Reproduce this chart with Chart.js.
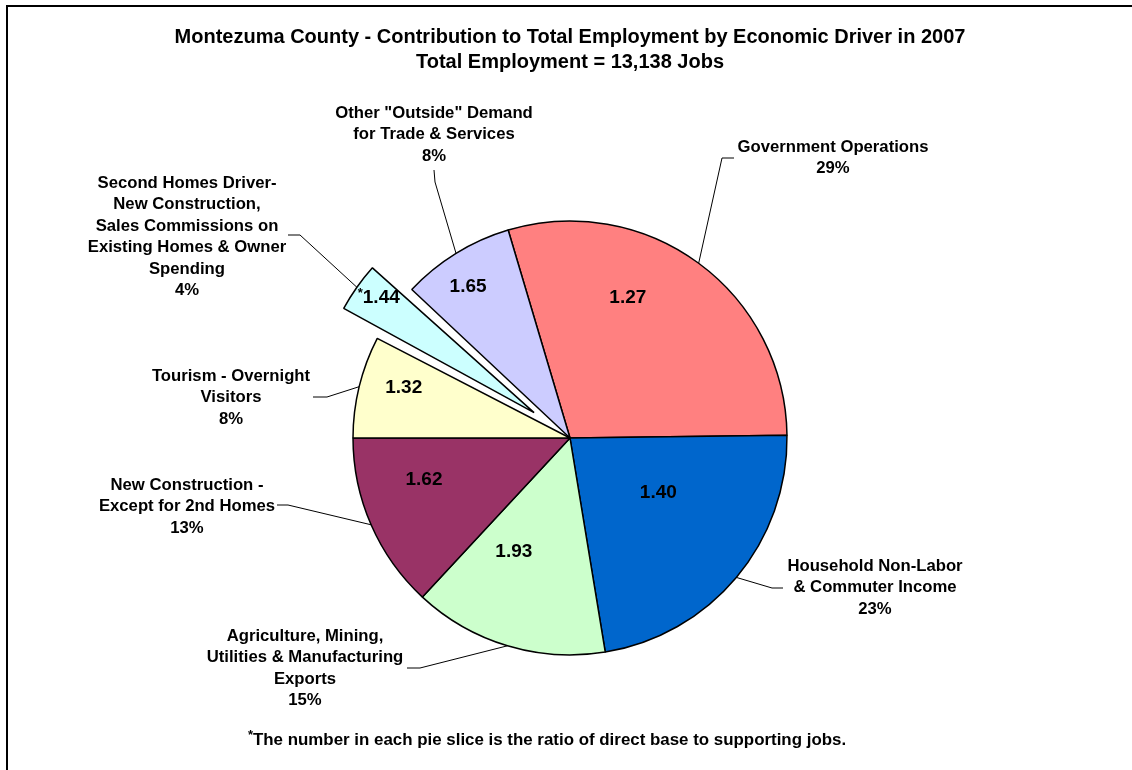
<!DOCTYPE html>
<html>
<head>
<meta charset="utf-8">
<script src="https://cdn.jsdelivr.net/npm/chart.js@4.4.0/dist/chart.umd.min.js"></script>
<style>
html, body { margin: 0; padding: 0; background: #fff; }
#wrap { width: 1132px; height: 770px; }
</style>
</head>
<body>
<div id="wrap"><canvas id="mainChart" width="1132" height="770"></canvas></div>
<script>
const ctx = document.getElementById('mainChart');

// data
const categories = [
    'Government Operations',
    'Household Non-Labor & Commuter Income',
    'Agriculture, Mining, Utilities & Manufacturing Exports',
    'New Construction - Except for 2nd Homes',
    'Tourism - Overnight Visitors',
    'Second Homes Driver- New Construction, Sales Commissions on Existing Homes & Owner Spending',
    'Other "Outside" Demand for Trade & Services'
];
const jobs = [3863, 2969, 1905, 1721, 998, 578, 1104];
const percentLabels = ['29%', '23%', '15%', '13%', '8%', '4%', '8%'];
const ratios = ['1.27', '1.40', '1.93', '1.62', '1.32', '1.44', '1.65'];
const starred = [false, false, false, false, false, true, false];
const labelLines = [
    ['Government Operations'],
    ['Household Non-Labor', '& Commuter Income'],
    ['Agriculture, Mining,', 'Utilities & Manufacturing', 'Exports'],
    ['New Construction -', 'Except for 2nd Homes'],
    ['Tourism - Overnight', 'Visitors'],
    ['Second Homes Driver-', 'New Construction,', 'Sales Commissions on', 'Existing Homes & Owner', 'Spending'],
    ['Other "Outside" Demand', 'for Trade & Services']
];
const titleLines = [
    'Montezuma County - Contribution to Total Employment by Economic Driver in 2007',
    'Total Employment = 13,138 Jobs'
];
const footnote = 'The number in each pie slice is the ratio of direct base to supporting jobs.';

// styling / layout
const colors = ['#FF8080', '#0066CC', '#CCFFCC', '#993366', '#FFFFCC', '#CCFFFF', '#CCCCFF'];
const explode = [0, 0, 0, 0, 0, 44, 0];   // pixels the slice is pulled out
const FONT = '"Liberation Sans", Arial, sans-serif';

// where the numbers sit inside slices: fraction of radius, angle shift from mid (deg)
const ratioPlace = [
    {r: 0.70, da: -14}, {r: 0.48, da: -8}, {r: 0.585, da: 9.5}, {r: 0.70, da: 7.6},
    {r: 0.80, da: 3}, {r: 0.89, da: 1.2}, {r: 0.84, da: -2.3}
];
// outside labels: text centre x, first line y, leader elbow and end
const labelPlace = [
    {x: 833, y: 147, elbow: [722, 158], end: [734, 158]},
    {x: 875, y: 566, elbow: [772, 588], end: [783, 588]},
    {x: 305, y: 636, elbow: [420, 668], end: [407, 668]},
    {x: 187, y: 485, elbow: [288, 505], end: [277, 505]},
    {x: 231, y: 376, elbow: [327, 397], end: [313, 397]},
    {x: 187, y: 183, elbow: [300, 235], end: [288, 235]},
    {x: 434, y: 113, elbow: [435, 182], end: [434, 170]}
];
const lineGap = 21.5;

const framePlugin = {
    id: 'frame',
    beforeDraw(chart) {
        const c = chart.ctx;
        c.save();
        c.fillStyle = '#fff';
        c.fillRect(0, 0, chart.width, chart.height);
        c.strokeStyle = '#000';
        c.lineWidth = 2;
        c.beginPath();
        c.moveTo(7, chart.height);
        c.lineTo(7, 6);
        c.lineTo(chart.width, 6);
        c.stroke();
        c.restore();
    }
};

// chart.js moves an arc by offset/4 and also grows its radius; keep the radius as is
const explodeFix = {
    id: 'explodeFix',
    afterDatasetUpdate(chart, args) {
        args.meta.data.forEach((arc, i) => {
            if (!explode[i]) return;
            const fix = 1 - Math.sin(Math.min(Math.PI, arc.circumference));
            arc.outerRadius -= explode[i] * fix;
        });
    }
};

const labelPlugin = {
    id: 'sliceLabels',
    afterDatasetsDraw(chart) {
        const c = chart.ctx;
        const meta = chart.getDatasetMeta(0);
        const R = meta.controller.outerRadius;
        c.save();
        c.fillStyle = '#000';
        c.textBaseline = 'middle';
        meta.data.forEach((arc, i) => {
            const p = arc.getProps(['x', 'y', 'startAngle', 'endAngle'], true);
            const mid = (p.startAngle + p.endAngle) / 2;
            const cx = p.x + Math.cos(mid) * explode[i];
            const cy = p.y + Math.sin(mid) * explode[i];

            // ratio inside the slice
            const a = mid + ratioPlace[i].da * Math.PI / 180;
            const tx = cx + Math.cos(a) * R * ratioPlace[i].r;
            const ty = cy + Math.sin(a) * R * ratioPlace[i].r;
            c.font = 'bold 19px ' + FONT;
            const w = c.measureText(ratios[i]).width;
            c.textAlign = 'left';
            if (starred[i]) {
                c.font = 'bold 13px ' + FONT;
                const sw = c.measureText('*').width;
                c.fillText('*', tx - (w + sw) / 2, ty - 4);
                c.font = 'bold 19px ' + FONT;
                c.fillText(ratios[i], tx - (w + sw) / 2 + sw, ty);
            } else {
                c.fillText(ratios[i], tx - w / 2, ty);
            }

            // leader line
            const lp = labelPlace[i];
            c.strokeStyle = '#000';
            c.lineWidth = 1;
            c.beginPath();
            c.moveTo(cx + Math.cos(mid) * R, cy + Math.sin(mid) * R);
            c.lineTo(lp.elbow[0], lp.elbow[1]);
            c.lineTo(lp.end[0], lp.end[1]);
            c.stroke();

            // category label
            c.font = 'bold 16.7px ' + FONT;
            c.textAlign = 'center';
            const lines = labelLines[i].concat([percentLabels[i]]);
            lines.forEach((t, k) => c.fillText(t, lp.x, lp.y + k * lineGap));
        });

        // footnote
        c.font = 'bold 16.9px ' + FONT;
        const fw = c.measureText(footnote).width;
        c.font = 'bold 13px ' + FONT;
        const aw = c.measureText('*').width;
        const fx = 547 - (fw + aw) / 2;
        c.textAlign = 'left';
        c.fillText('*', fx, 735);
        c.font = 'bold 16.9px ' + FONT;
        c.fillText(footnote, fx + aw, 740);
        c.restore();
    }
};

new Chart(ctx, {
    type: 'pie',
    data: {
        labels: categories,
        datasets: [{
            data: jobs,
            backgroundColor: colors,
            borderColor: '#000',
            borderWidth: 1.5,
            offset: explode.map(v => v * 4),
            hoverOffset: 0
        }]
    },
    options: {
        responsive: false,
        animation: false,
        rotation: -16.56,
        radius: 217,
        layout: { padding: { left: 8, right: 0, top: 0, bottom: 10 } },
        plugins: {
            legend: { display: false },
            tooltip: { enabled: false },
            title: {
                display: true,
                text: titleLines,
                color: '#000',
                font: { family: FONT, size: 20, weight: 'bold', lineHeight: 1.25 },
                padding: { top: 25, bottom: 41 }
            }
        }
    },
    plugins: [framePlugin, explodeFix, labelPlugin]
});
</script>
</body>
</html>
